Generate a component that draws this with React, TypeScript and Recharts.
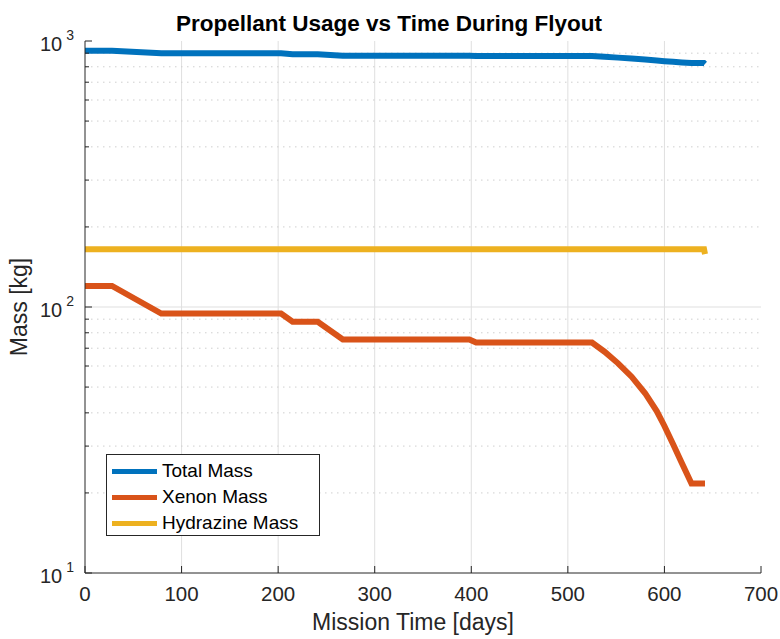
import { LineChart, Line, XAxis, YAxis, CartesianGrid, ReferenceLine } from 'recharts';

// days since launch, shared by all three series
const days = [0, 28, 79, 203, 215, 241, 267, 398, 405, 525, 538, 552, 566, 580, 592, 600, 609, 618, 628, 641, 642];
const totalMass = [919, 919, 899, 899, 892, 892, 880, 880, 878, 878, 872, 866, 859, 852, 845, 840, 835, 830, 826, 826, 820];
const xenonMass = [120, 120, 94.5, 94.5, 88, 88, 75.5, 75.5, 73.5, 73.5, 67.9, 61.4, 54.7, 47.4, 40.6, 35.7, 30.5, 25.9, 21.7, 21.7, 21.7];
const hydrazineMass = [165, 165, 165, 165, 165, 165, 165, 165, 165, 165, 165, 165, 165, 165, 165, 165, 165, 165, 165, 165, 158];

const xTicks = [0, 100, 200, 300, 400, 500, 600, 700];
const yMajor = [10, 100, 1000];
const yMinor = [20, 30, 40, 50, 60, 70, 80, 90, 200, 300, 400, 500, 600, 700, 800, 900];

const series = [
  { key: 'total', name: 'Total Mass', color: '#0072BD' },
  { key: 'xenon', name: 'Xenon Mass', color: '#D95319' },
  { key: 'hydrazine', name: 'Hydrazine Mass', color: '#EDB120' },
];

const data = days.map((d, i) => ({
  day: d,
  total: totalMass[i],
  xenon: xenonMass[i],
  hydrazine: hydrazineMass[i],
}));

const FONT = '"Liberation Sans", Arial, Helvetica, sans-serif';
const AXIS = '#262626';
const GRID = '#dfdfdf';

const isMajor = (v: number) => yMajor.includes(v);

function LeftTick({ x, y, payload }: any) {
  const v = payload.value;
  const len = isMajor(v) ? 7 : 4;
  return (
    <g>
      <line x1={x} y1={y} x2={x + len} y2={y} stroke={AXIS} strokeWidth={1} />
      {isMajor(v) && (
        <text x={x - 11} y={y + 10} textAnchor="end" fill={AXIS} fontSize={20} fontFamily={FONT}>
          <tspan>10</tspan>
          <tspan dx={4} dy={-11} fontSize={14}>{Math.round(Math.log10(v))}</tspan>
        </text>
      )}
    </g>
  );
}

function RightTick({ x, y, payload }: any) {
  const len = isMajor(payload.value) ? 7 : 4;
  return <line x1={x} y1={y} x2={x - len} y2={y} stroke={AXIS} strokeWidth={1} />;
}

function BottomTick({ x, y, payload }: any) {
  return (
    <g>
      <line x1={x} y1={y} x2={x} y2={y - 7} stroke={AXIS} strokeWidth={1} />
      <text x={x} y={y + 28} textAnchor="middle" fill={AXIS} fontSize={20.5} fontFamily={FONT}>
        {payload.value}
      </text>
    </g>
  );
}

function TopTick({ x, y }: any) {
  return <line x1={x} y1={y} x2={x} y2={y + 7} stroke={AXIS} strokeWidth={1} />;
}

export default function App() {
  return (
    <div style={{ position: 'absolute', left: 0, top: 0, width: 780, height: 639, background: '#fff', fontFamily: FONT }}>
      <LineChart width={780} height={639} data={data} margin={{ top: 41, right: 19, bottom: 0, left: 0 }}>
        <CartesianGrid horizontal={false} stroke={GRID} verticalValues={[100, 200, 300, 400, 500, 600]} />
        {yMinor.map((v) => (
          <ReferenceLine key={v} y={v} stroke="#cfcfcf" strokeDasharray="1.5 4.5" />
        ))}
        <ReferenceLine y={100} stroke={GRID} />
        <XAxis
          dataKey="day"
          type="number"
          domain={[0, 700]}
          ticks={xTicks}
          height={66}
          tickSize={0}
          tickMargin={0}
          tick={<BottomTick />}
          axisLine={{ stroke: AXIS }}
          tickLine={false}
          allowDataOverflow
        />
        <XAxis
          xAxisId="top"
          orientation="top"
          dataKey="day"
          type="number"
          domain={[0, 700]}
          ticks={xTicks}
          height={0}
          tickSize={0}
          tickMargin={0}
          tick={<TopTick />}
          axisLine={{ stroke: AXIS }}
          tickLine={false}
        />
        <YAxis
          scale="log"
          type="number"
          domain={[10, 1000]}
          ticks={[...yMajor, ...yMinor]}
          width={85}
          tickSize={0}
          tickMargin={0}
          tick={<LeftTick />}
          axisLine={{ stroke: AXIS }}
          tickLine={false}
          allowDataOverflow
          interval={0}
        />
        <YAxis
          yAxisId="right"
          orientation="right"
          scale="log"
          type="number"
          domain={[10, 1000]}
          ticks={[...yMajor, ...yMinor]}
          width={0}
          tickSize={0}
          tickMargin={0}
          tick={<RightTick />}
          axisLine={{ stroke: AXIS }}
          tickLine={false}
          allowDataOverflow
          interval={0}
        />
        {series.map((s) => (
          <Line
            key={s.key}
            type="linear"
            dataKey={s.key}
            name={s.name}
            stroke={s.color}
            strokeWidth={6}
            dot={false}
            isAnimationActive={false}
          />
        ))}
        <text x={389} y={31} textAnchor="middle" fontSize={22.5} fontWeight="bold" fill="#000" fontFamily={FONT}>
          Propellant Usage vs Time During Flyout
        </text>
        <text x={413} y={630} textAnchor="middle" fontSize={23} fill={AXIS} fontFamily={FONT}>
          Mission Time [days]
        </text>
        <text
          x={27}
          y={307}
          textAnchor="middle"
          fontSize={23}
          fill={AXIS}
          fontFamily={FONT}
          transform="rotate(-90 27 307)"
        >
          Mass [kg]
        </text>
      </LineChart>
      <div
        style={{
          position: 'absolute',
          left: 106,
          top: 454,
          width: 214,
          height: 82,
          border: '1px solid #262626',
          background: '#fff',
          boxSizing: 'border-box',
          padding: '3px 0 0 5px',
        }}
      >
        {series.map((s) => (
          <div key={s.key} style={{ display: 'flex', alignItems: 'center', height: 26 }}>
            <div style={{ width: 45, height: 5, background: s.color, marginRight: 5 }} />
            <span style={{ fontSize: 19, color: '#000', lineHeight: '20px' }}>{s.name}</span>
          </div>
        ))}
      </div>
    </div>
  );
}
